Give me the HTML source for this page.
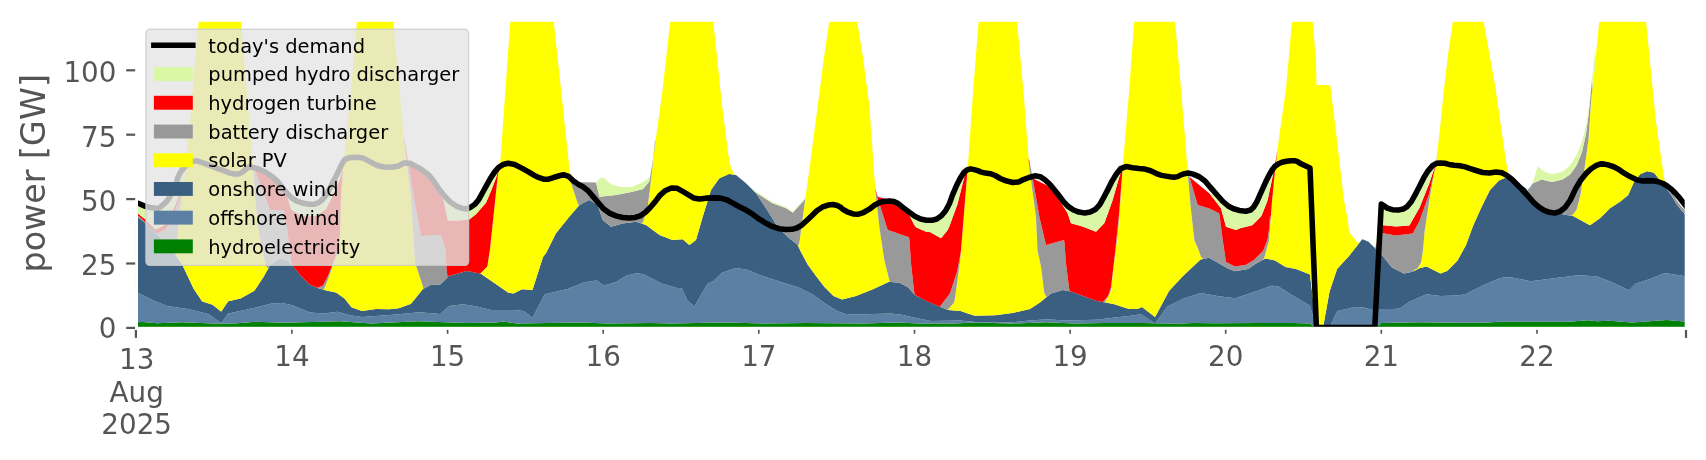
<!DOCTYPE html>
<html><head><meta charset="utf-8"><style>
html,body{margin:0;padding:0;background:#fff;}
svg{display:block;will-change:transform;}
.tk{font-family:"DejaVu Sans","Liberation Sans",sans-serif;font-size:27.78px;fill:#555555;}
.lg{font-family:"DejaVu Sans","Liberation Sans",sans-serif;font-size:19.44px;fill:#000;}
.yl{font-family:"DejaVu Sans","Liberation Sans",sans-serif;font-size:33.33px;fill:#555555;}
</style></head><body>
<svg width="1706" height="460" viewBox="0 0 1706 460">
<defs><clipPath id="ax"><rect x="135.9" y="20.4" width="1550.0" height="307.8"/></clipPath></defs>
<rect width="1706" height="460" fill="#fff"/>
<g clip-path="url(#ax)">
<polygon points="135.0,322.2 143.0,321.9 157.0,323.3 182.0,322.2 213.0,323.4 234.0,323.4 256.0,321.8 284.0,322.7 340.0,321.3 371.0,323.4 418.0,321.3 467.0,322.9 496.0,322.5 503.0,321.5 517.0,323.4 580.0,322.4 609.0,323.6 651.0,323.1 672.0,323.5 721.0,322.4 736.0,322.7 764.0,323.6 806.0,323.1 863.0,323.6 898.0,322.4 919.0,323.6 954.0,323.4 976.0,322.4 1011.0,323.6 1046.0,322.2 1074.0,323.6 1103.0,322.9 1145.0,323.1 1173.0,323.8 1194.0,322.9 1216.0,323.2 1258.0,322.9 1293.0,323.1 1310.0,323.6 1316.5,328.3 1374.5,328.3 1375.0,328.1 1381.0,323.3 1381.5,323.1 1420.0,322.2 1456.0,322.7 1484.0,322.7 1498.5,321.7 1568.5,321.7 1588.0,320.3 1596.5,321.3 1609.5,320.8 1632.0,322.4 1667.0,320.1 1681.0,321.3 1687.0,321.6 1687.0,331.2 135.0,331.2" fill="#008000"/>
<polygon points="135.0,292.0 136.0,292.0 137.5,292.5 153.5,300.4 167.0,305.9 188.0,309.1 209.0,314.3 221.0,322.9 221.5,322.6 228.0,313.8 228.5,313.4 249.0,309.1 271.5,303.6 282.0,303.0 292.5,305.3 310.0,312.6 324.0,313.5 337.5,311.7 350.0,315.2 362.0,317.0 376.0,316.1 393.0,314.7 419.5,312.3 440.0,314.0 440.5,313.8 449.0,306.0 463.0,304.3 477.0,306.5 491.0,310.0 515.0,310.0 523.5,310.9 524.0,311.1 532.5,317.8 544.5,294.7 545.0,294.2 567.5,289.0 584.5,282.3 596.5,280.5 597.0,280.5 603.5,285.5 604.0,285.6 616.0,282.0 626.5,275.7 637.0,273.0 644.0,274.4 661.5,283.5 677.0,287.9 681.5,288.3 682.0,288.9 687.0,299.8 687.5,300.6 694.0,306.2 694.5,306.2 707.0,284.4 707.5,283.8 713.5,280.9 722.0,272.7 736.0,267.9 748.0,270.0 760.5,275.3 781.0,282.1 798.5,287.4 812.5,294.3 824.5,302.9 837.0,310.9 845.5,314.0 856.0,314.5 891.0,313.5 901.5,314.8 917.0,318.2 931.0,321.0 960.0,320.4 978.0,322.2 1012.5,322.2 1030.0,320.4 1047.0,319.2 1065.0,320.4 1096.0,319.8 1130.5,315.7 1141.0,314.3 1141.5,314.5 1155.0,323.4 1155.0,323.4 1145.0,323.1 1103.0,322.9 1074.0,323.6 1046.0,322.2 1011.0,323.6 976.0,322.4 954.0,323.4 919.0,323.6 898.0,322.4 863.0,323.6 806.0,323.1 764.0,323.6 736.0,322.7 721.0,322.4 672.0,323.5 651.0,323.1 609.0,323.6 580.0,322.4 517.0,323.4 503.0,321.5 496.0,322.5 467.0,322.9 418.0,321.3 371.0,323.4 340.0,321.3 284.0,322.7 256.0,321.8 234.0,323.4 213.0,323.4 182.0,322.2 157.0,323.3 143.0,321.9 135.0,322.2" fill="#5b80a3"/>
<polygon points="1155.0,323.4 1155.5,322.9 1167.0,306.9 1167.5,306.4 1183.0,298.7 1200.0,293.2 1200.5,293.1 1217.5,296.1 1235.0,298.3 1252.5,292.6 1271.5,285.8 1272.0,285.7 1278.5,286.5 1291.0,294.4 1309.5,305.5 1310.0,306.0 1316.5,328.3 1316.5,328.3 1310.0,323.6 1293.0,323.1 1258.0,322.9 1216.0,323.2 1194.0,322.9 1173.0,323.8 1155.0,323.4" fill="#5b80a3"/>
<polygon points="1329.0,328.3 1329.5,328.1 1337.0,311.2 1337.5,310.9 1349.0,308.6 1353.5,307.0 1364.0,307.5 1372.5,310.0 1379.5,309.1 1393.5,309.1 1400.0,308.5 1409.0,302.0 1426.5,294.3 1440.5,296.1 1457.5,295.6 1466.0,294.1 1480.5,286.4 1499.5,278.2 1505.0,277.2 1512.0,277.6 1531.0,281.3 1550.0,278.7 1578.0,275.2 1596.0,276.2 1596.5,276.2 1612.5,282.6 1629.0,290.2 1635.5,283.7 1648.5,279.4 1665.0,272.9 1686.0,276.2 1687.0,276.2 1687.0,321.6 1681.0,321.3 1667.0,320.1 1632.0,322.4 1609.5,320.8 1596.5,321.3 1588.0,320.3 1568.5,321.7 1498.5,321.7 1484.0,322.7 1456.0,322.7 1420.0,322.2 1381.5,323.1 1381.0,323.3 1375.0,328.1 1374.5,328.3 1329.0,328.3" fill="#5b80a3"/>
<polygon points="135.0,217.0 138.0,217.2 146.0,223.5 156.0,233.0 166.0,243.0 175.0,254.0 182.5,265.2 193.5,288.4 202.0,301.2 202.5,301.4 212.5,304.8 221.0,311.5 221.5,311.3 228.0,301.6 228.5,301.2 240.5,298.6 254.0,291.1 254.5,290.6 263.0,277.8 270.0,265.4 279.5,258.7 280.0,258.7 286.5,260.0 287.0,260.3 292.5,265.5 301.5,276.4 310.0,284.8 319.0,288.4 325.5,290.3 336.0,292.6 344.5,298.6 351.5,307.2 352.0,307.5 362.0,310.9 376.0,309.1 389.5,309.3 398.5,308.3 410.5,304.0 411.0,303.7 423.0,289.1 431.5,284.5 432.0,284.4 440.0,284.4 440.5,284.2 449.0,276.1 466.5,270.9 480.5,273.6 508.0,292.5 508.5,292.7 513.5,293.4 522.0,289.2 532.5,290.0 543.0,257.0 546.0,253.3 556.0,233.3 569.5,216.5 579.0,205.4 579.5,204.9 589.0,200.1 589.5,200.1 597.5,204.9 598.0,205.9 602.5,219.4 603.0,220.2 611.0,226.7 622.5,223.4 636.0,221.7 646.0,225.0 659.5,235.1 672.5,239.9 682.5,239.3 683.0,239.6 689.0,244.7 689.5,244.9 696.0,240.0 702.5,217.4 711.0,190.0 719.0,178.7 719.5,178.2 729.0,174.1 729.5,174.0 736.0,175.0 746.0,183.3 756.0,193.3 766.0,208.3 777.5,226.4 789.0,238.0 797.5,244.8 801.0,252.0 807.5,264.2 816.0,276.1 824.5,287.1 833.5,296.1 842.0,299.6 856.0,296.1 873.5,289.1 889.0,281.8 899.5,282.7 908.0,287.3 915.0,295.1 915.5,295.4 926.0,300.6 939.5,306.5 948.0,309.9 960.5,311.0 974.5,315.7 995.0,315.2 1012.5,313.0 1030.0,309.0 1040.5,302.0 1051.0,293.4 1063.0,290.0 1072.0,291.8 1096.0,300.8 1113.5,303.9 1129.0,309.1 1137.5,309.1 1142.0,307.0 1155.0,316.9 1155.5,316.2 1169.0,290.9 1183.0,276.1 1200.0,259.9 1200.5,259.6 1209.0,257.8 1228.0,268.5 1235.0,271.3 1248.0,269.1 1256.0,263.5 1265.5,258.4 1275.0,260.4 1285.5,266.9 1296.0,269.1 1309.5,274.2 1310.0,275.1 1316.5,328.3 1316.5,328.3 1310.0,306.0 1309.5,305.5 1291.0,294.4 1278.5,286.5 1272.0,285.7 1271.5,285.8 1252.5,292.6 1235.0,298.3 1217.5,296.1 1200.5,293.1 1200.0,293.2 1183.0,298.7 1167.5,306.4 1167.0,306.9 1155.5,322.9 1155.0,323.4 1141.5,314.5 1141.0,314.3 1130.5,315.7 1096.0,319.8 1065.0,320.4 1047.0,319.2 1030.0,320.4 1012.5,322.2 978.0,322.2 960.0,320.4 931.0,321.0 917.0,318.2 901.5,314.8 891.0,313.5 856.0,314.5 845.5,314.0 837.0,310.9 824.5,302.9 812.5,294.3 798.5,287.4 781.0,282.1 760.5,275.3 748.0,270.0 736.0,267.9 722.0,272.7 713.5,280.9 707.5,283.8 707.0,284.4 694.5,306.2 694.0,306.2 687.5,300.6 687.0,299.8 682.0,288.9 681.5,288.3 677.0,287.9 661.5,283.5 644.0,274.4 637.0,273.0 626.5,275.7 616.0,282.0 604.0,285.6 603.5,285.5 597.0,280.5 596.5,280.5 584.5,282.3 567.5,289.0 545.0,294.2 544.5,294.7 532.5,317.8 524.0,311.1 523.5,310.9 515.0,310.0 491.0,310.0 477.0,306.5 463.0,304.3 449.0,306.0 440.5,313.8 440.0,314.0 419.5,312.3 393.0,314.7 376.0,316.1 362.0,317.0 350.0,315.2 337.5,311.7 324.0,313.5 310.0,312.6 292.5,305.3 282.0,303.0 271.5,303.6 249.0,309.1 228.5,313.4 228.0,313.8 221.5,322.6 221.0,322.9 209.0,314.3 188.0,309.1 167.0,305.9 153.5,300.4 137.5,292.5 136.0,292.0 135.0,292.0" fill="#3b5f80"/>
<polygon points="1322.5,328.3 1323.0,327.7 1329.5,291.7 1337.0,269.3 1337.5,268.6 1349.0,256.0 1362.0,239.4 1362.5,239.2 1368.0,241.4 1368.5,241.8 1382.0,255.1 1391.5,267.1 1392.0,267.6 1403.5,273.3 1404.0,273.5 1412.5,271.7 1419.5,268.3 1426.5,266.5 1440.0,273.3 1440.5,273.4 1447.0,271.0 1447.5,270.7 1457.5,260.6 1466.0,245.0 1473.0,226.0 1482.0,206.0 1490.0,190.0 1499.0,180.5 1507.5,176.8 1508.0,176.9 1516.0,181.7 1526.0,188.3 1541.5,209.3 1542.0,209.5 1552.5,212.1 1565.0,214.7 1573.0,216.1 1590.0,225.3 1600.0,218.3 1610.0,208.3 1620.0,201.7 1628.0,195.2 1628.5,194.5 1633.5,183.0 1640.0,174.3 1647.0,171.2 1653.5,172.5 1654.0,172.7 1664.0,185.3 1671.0,194.8 1676.5,203.9 1681.5,210.6 1686.0,215.0 1687.0,215.0 1687.0,276.2 1686.0,276.2 1665.0,272.9 1648.5,279.4 1635.5,283.7 1629.0,290.2 1612.5,282.6 1596.5,276.2 1596.0,276.2 1578.0,275.2 1550.0,278.7 1531.0,281.3 1512.0,277.6 1505.0,277.2 1499.5,278.2 1480.5,286.4 1466.0,294.1 1457.5,295.6 1440.5,296.1 1426.5,294.3 1409.0,302.0 1400.0,308.5 1393.5,309.1 1379.5,309.1 1372.5,310.0 1364.0,307.5 1353.5,307.0 1349.0,308.6 1337.5,310.9 1337.0,311.2 1329.5,328.1 1329.0,328.3 1322.5,328.3" fill="#3b5f80"/>
<polygon points="175.5,254.8 177.0,245.0 178.5,222.0 179.5,212.0 183.5,185.7 184.0,181.0 190.0,121.0 198.5,23.3 199.0,21.0 241.0,21.0 253.0,165.7 255.5,200.8 256.0,205.7 259.5,236.2 266.0,266.2 268.0,268.0 268.5,268.0 268.5,268.0 263.0,277.8 254.5,290.6 254.0,291.1 240.5,298.6 228.5,301.2 228.0,301.6 221.5,311.3 221.0,311.5 212.5,304.8 202.5,301.4 202.0,301.2 193.5,288.4 182.5,265.2 175.5,254.8" fill="#ffff00"/>
<polygon points="323.0,289.6 323.5,289.3 324.0,288.7 327.0,282.0 332.5,266.5 337.0,255.0 339.5,242.1 340.0,235.0 340.5,210.0 341.0,196.1 343.0,170.0 350.0,100.0 357.0,21.0 393.0,21.0 393.5,23.2 404.0,140.0 411.0,196.5 415.0,261.2 415.5,264.8 416.0,265.5 422.0,283.6 423.5,288.8 423.5,288.8 423.0,289.1 411.0,303.7 410.5,304.0 399.0,308.2 389.5,309.3 376.0,309.1 362.0,310.9 352.0,307.5 351.5,307.2 344.5,298.6 336.0,292.6 326.0,290.4 323.0,289.6" fill="#ffff00"/>
<polygon points="480.0,273.4 480.5,273.3 487.0,266.8 487.5,265.2 490.0,249.1 497.5,177.9 498.0,174.4 500.0,163.6 500.5,159.2 510.0,25.2 510.5,21.0 553.5,21.0 554.0,23.8 571.0,183.3 578.0,204.0 579.0,205.4 579.0,205.4 569.5,216.5 556.0,233.3 546.0,253.3 543.0,257.0 532.5,290.0 522.0,289.2 513.5,293.4 508.5,292.7 508.0,292.5 494.0,282.8 480.5,273.6 480.0,273.4" fill="#ffff00"/>
<polygon points="641.5,223.5 642.0,223.5 643.5,220.7 647.5,207.7 648.0,204.5 651.0,180.0 654.5,148.5 662.5,90.2 670.0,23.7 670.5,21.0 713.0,21.0 713.5,22.9 722.0,105.3 728.0,152.0 730.0,165.0 734.0,174.0 735.0,174.9 735.0,174.9 729.5,174.0 729.0,174.1 719.5,178.2 719.0,178.7 711.0,190.0 702.5,217.4 696.0,240.0 689.5,244.9 689.0,244.7 683.0,239.6 682.5,239.3 672.5,239.9 659.5,235.1 646.0,225.0 641.5,223.5" fill="#ffff00"/>
<polygon points="798.0,245.6 799.0,243.9 799.5,241.8 803.0,215.0 810.0,165.0 824.0,57.6 829.0,23.1 829.5,21.0 857.0,21.0 862.5,54.1 869.0,103.0 869.5,108.1 874.0,171.1 876.0,196.7 879.5,228.0 884.5,260.8 889.5,280.9 890.0,281.9 890.0,281.9 889.0,281.8 873.5,289.1 856.0,296.1 842.0,299.6 833.5,296.1 824.5,287.1 816.0,276.1 807.5,264.2 801.0,252.0 798.0,245.6" fill="#ffff00"/>
<polygon points="947.5,309.7 948.0,309.4 954.0,302.5 954.5,300.9 957.0,284.0 960.0,261.0 960.5,256.3 967.5,170.8 973.5,86.2 978.5,23.5 979.0,21.0 1017.0,21.0 1023.5,91.4 1029.5,170.0 1031.0,180.0 1036.0,216.7 1037.5,250.0 1041.0,266.7 1044.0,290.9 1044.5,293.6 1046.0,296.0 1046.5,297.1 1046.5,297.1 1040.0,302.4 1030.0,309.0 1012.5,313.0 995.0,315.2 974.5,315.7 960.5,311.0 948.5,310.0 947.5,309.7" fill="#ffff00"/>
<polygon points="1104.5,302.3 1105.0,302.0 1109.0,295.0 1111.0,290.0 1115.0,255.0 1117.0,240.0 1119.5,213.8 1123.0,163.2 1129.0,92.2 1134.0,25.1 1134.5,21.0 1175.0,21.0 1181.0,88.7 1186.0,150.0 1188.0,176.6 1191.0,210.0 1194.0,237.3 1194.5,240.5 1198.5,249.8 1201.0,256.7 1203.0,259.0 1203.5,258.9 1203.5,258.9 1200.5,259.6 1200.0,259.9 1183.0,276.1 1169.0,290.9 1155.5,316.2 1155.0,316.9 1142.0,307.0 1137.5,309.1 1129.0,309.1 1113.5,303.9 1104.5,302.3" fill="#ffff00"/>
<polygon points="1263.0,259.7 1263.5,259.1 1264.5,256.9 1269.0,240.5 1272.0,201.0 1275.0,170.5 1279.0,137.9 1286.0,88.7 1292.0,21.0 1312.5,21.0 1313.0,24.5 1316.0,60.0 1316.5,85.0 1330.0,85.0 1330.5,87.4 1336.0,132.0 1344.0,200.5 1348.0,221.0 1349.0,231.0 1349.5,232.5 1357.5,242.7 1360.0,241.9 1360.0,241.9 1349.0,256.0 1337.5,268.6 1337.0,269.3 1329.5,291.7 1323.0,327.7 1322.5,328.3 1316.5,328.3 1310.0,275.1 1309.5,274.2 1296.0,269.1 1285.5,266.9 1275.0,260.4 1265.5,258.4 1263.0,259.7" fill="#ffff00"/>
<polygon points="1413.5,271.2 1414.0,270.0 1417.5,268.4 1418.0,267.8 1421.0,262.5 1421.5,260.2 1423.0,250.0 1424.5,232.0 1429.5,198.9 1436.5,159.5 1440.5,123.7 1444.0,88.8 1448.5,51.2 1453.0,21.0 1483.5,21.0 1495.5,87.7 1505.5,158.2 1509.0,175.8 1509.5,177.5 1510.5,178.4 1510.5,178.4 1508.0,176.9 1507.5,176.8 1499.0,180.5 1490.0,190.0 1482.0,206.0 1473.0,226.0 1466.0,245.0 1457.5,260.6 1447.5,270.7 1447.0,271.0 1440.5,273.4 1440.0,273.3 1426.5,266.5 1419.5,268.3 1413.5,271.2" fill="#ffff00"/>
<polygon points="1571.0,215.7 1571.5,215.6 1573.0,214.6 1576.5,209.8 1577.0,208.6 1580.5,194.6 1584.5,168.5 1588.5,139.1 1591.0,101.5 1594.5,70.0 1599.0,24.1 1599.5,21.0 1646.0,21.0 1656.0,122.0 1664.0,177.5 1665.5,187.0 1666.0,188.0 1666.0,188.0 1654.0,172.7 1647.0,171.2 1640.0,174.3 1633.5,183.0 1628.5,194.5 1628.0,195.2 1620.0,201.7 1610.0,208.3 1600.0,218.3 1590.0,225.3 1573.0,216.1 1571.0,215.7" fill="#ffff00"/>
<polygon points="135.5,217.0 136.0,215.3 138.0,215.5 146.0,223.0 149.5,226.8 149.5,226.8 146.0,223.5 138.0,217.2 135.5,217.0" fill="#999999"/>
<polygon points="156.5,233.5 157.0,233.5 166.0,229.0 175.5,209.7 181.0,193.0 182.5,190.0 183.0,188.6 183.5,185.7 183.5,185.7 179.5,212.0 178.5,222.0 177.0,245.0 175.5,254.8 166.0,243.0 156.5,233.5" fill="#999999"/>
<polygon points="252.5,159.6 253.0,165.0 270.0,210.0 284.0,210.0 287.0,228.0 291.5,262.2 292.0,265.0 292.0,265.0 287.0,260.3 286.5,260.0 280.0,258.7 279.5,258.7 270.0,265.4 268.5,268.0 268.0,268.0 266.0,266.2 259.5,236.2 255.5,200.8 252.5,159.6" fill="#999999"/>
<polygon points="317.0,287.6 317.5,287.8 323.0,285.5 328.0,276.0 333.0,263.0 337.0,252.0 339.5,240.0 340.0,232.5 340.5,210.0 340.5,210.0 340.0,235.0 339.5,242.1 337.0,255.0 332.5,266.5 327.5,280.7 324.0,288.7 323.5,289.3 323.0,289.6 318.5,288.3 317.0,287.6" fill="#999999"/>
<polygon points="403.5,134.4 406.5,157.7 407.0,160.4 408.0,162.6 408.5,164.8 415.0,203.8 421.0,236.1 440.5,234.7 441.0,235.6 445.5,249.7 446.5,267.8 447.5,277.5 447.5,277.5 440.5,284.2 440.0,284.4 432.0,284.4 431.5,284.5 423.5,288.8 422.0,283.6 416.0,265.5 415.5,264.8 415.0,261.2 411.0,196.5 404.0,140.0 403.5,134.4" fill="#999999"/>
<polygon points="570.0,173.8 570.5,176.8 572.0,182.0 596.0,182.5 599.5,196.7 616.0,195.0 632.5,191.7 642.5,189.3 643.0,189.0 649.0,182.0 649.5,180.5 653.0,160.0 655.0,140.0 655.5,141.2 655.5,141.2 654.0,152.8 651.0,180.0 648.0,204.5 647.5,207.7 643.5,220.7 642.0,223.5 641.5,223.5 636.0,221.7 622.5,223.4 611.0,226.7 603.0,220.2 602.5,219.4 598.0,205.9 597.5,204.9 589.5,200.1 589.0,200.1 579.5,204.9 579.0,205.4 578.0,204.0 571.0,183.3 570.0,173.8" fill="#999999"/>
<polygon points="754.5,191.8 772.5,203.2 786.0,208.3 792.5,212.6 793.0,212.4 805.0,199.3 805.5,197.1 805.5,197.1 799.5,241.8 799.0,243.9 798.0,245.6 797.5,244.8 789.0,238.0 777.5,226.4 766.0,208.3 756.0,193.3 754.5,191.8" fill="#999999"/>
<polygon points="875.5,190.4 878.0,199.3 887.5,229.4 888.0,230.1 909.0,237.2 909.5,240.4 911.0,263.3 914.0,290.3 914.5,293.8 915.0,295.1 915.0,295.1 908.0,287.3 899.5,282.7 890.0,281.9 889.5,280.9 884.5,260.8 884.0,258.0 879.5,228.0 876.0,196.7 875.5,190.4" fill="#999999"/>
<polygon points="940.0,306.7 941.5,304.4 950.0,293.2 957.0,272.1 960.5,253.7 961.0,250.2 961.0,250.2 960.0,261.0 957.0,284.0 954.5,300.9 954.0,302.5 948.0,309.4 947.5,309.7 940.0,306.7" fill="#999999"/>
<polygon points="1029.0,164.7 1029.5,161.1 1033.0,180.0 1039.5,217.5 1046.0,245.0 1064.0,240.1 1064.5,242.7 1066.0,263.3 1069.0,287.6 1069.5,290.6 1070.0,291.4 1070.0,291.4 1063.0,290.0 1051.0,293.4 1046.5,297.1 1046.0,296.0 1044.5,293.6 1044.0,290.9 1041.0,266.7 1037.5,250.0 1036.0,216.7 1031.0,180.0 1029.5,170.0 1029.0,164.7" fill="#999999"/>
<polygon points="1102.5,302.0 1103.0,301.8 1108.0,296.0 1111.0,287.0 1115.0,253.0 1119.0,214.0 1123.0,163.2 1123.0,163.2 1119.0,219.7 1117.0,240.0 1115.0,255.0 1111.0,290.0 1109.0,295.0 1105.0,302.0 1104.5,302.3 1102.5,302.0" fill="#999999"/>
<polygon points="1187.0,163.7 1187.5,170.3 1197.5,204.3 1198.0,205.1 1209.5,208.4 1219.0,213.2 1219.5,214.9 1222.5,238.4 1226.0,262.0 1235.0,266.5 1246.0,264.8 1255.0,259.0 1263.0,250.9 1263.5,250.1 1267.5,239.5 1268.0,237.1 1269.5,225.0 1270.0,215.0 1270.5,220.8 1270.5,220.8 1269.0,240.5 1264.5,256.9 1264.0,258.1 1263.0,259.7 1256.0,263.5 1248.0,269.1 1235.0,271.3 1228.0,268.5 1209.0,257.8 1203.0,259.0 1201.0,256.7 1198.5,249.8 1194.5,240.5 1194.0,237.3 1191.0,210.0 1188.0,176.6 1187.0,163.7" fill="#999999"/>
<polygon points="1375.0,248.3 1375.5,248.2 1381.0,233.8 1381.5,233.0 1396.0,235.5 1412.5,233.5 1413.0,233.0 1419.5,221.1 1429.0,194.2 1435.0,168.0 1435.5,165.3 1437.5,150.8 1437.5,150.8 1436.5,159.5 1429.5,198.9 1424.5,232.0 1423.0,250.0 1421.5,260.2 1421.0,262.5 1418.0,267.8 1417.5,268.4 1414.0,270.0 1413.5,271.2 1412.5,271.7 1404.0,273.5 1403.5,273.3 1392.0,267.6 1391.5,267.1 1382.0,255.1 1375.0,248.3" fill="#999999"/>
<polygon points="1527.0,189.7 1527.5,190.2 1531.0,186.0 1532.5,183.4 1541.5,179.5 1552.0,182.1 1562.5,179.5 1570.0,174.5 1570.5,174.0 1576.5,165.5 1577.0,164.6 1582.0,152.1 1586.0,133.9 1588.5,115.6 1592.0,80.0 1592.5,87.7 1592.5,87.7 1591.0,101.5 1588.5,139.1 1584.5,168.5 1581.0,191.8 1580.5,194.6 1577.0,208.6 1576.5,209.8 1573.0,214.6 1571.5,215.6 1571.0,215.7 1565.0,214.7 1552.5,212.1 1542.0,209.5 1541.5,209.3 1527.0,189.7" fill="#999999"/>
<polygon points="1664.5,180.8 1665.0,183.0 1671.5,191.8 1676.5,200.0 1681.5,206.7 1686.0,211.0 1686.5,215.0 1686.5,215.0 1686.0,215.0 1681.5,210.6 1676.5,203.9 1671.5,195.5 1666.0,188.0 1665.5,187.0 1664.5,180.8" fill="#999999"/>
<polygon points="135.5,217.0 136.0,213.2 138.0,213.4 146.0,220.0 155.5,229.2 156.0,229.4 165.5,224.6 175.5,204.7 179.0,194.5 182.0,187.0 183.5,184.0 184.0,181.0 184.0,181.0 183.5,185.7 183.0,188.6 182.5,190.0 181.0,193.0 175.5,209.7 166.0,229.0 157.0,233.5 156.5,233.5 149.5,226.8 146.0,223.0 138.0,215.5 136.0,215.3 135.5,217.0" fill="#ff0000"/>
<polygon points="254.0,167.7 262.0,173.5 272.5,178.5 283.0,189.0 287.5,197.3 291.0,208.9 291.5,209.8 299.0,214.2 306.0,216.3 306.5,216.4 317.0,215.7 326.0,209.0 326.5,208.2 334.0,192.4 339.5,180.0 340.0,178.7 343.0,168.0 345.0,150.0 345.0,150.0 343.0,170.0 341.0,196.1 340.5,210.0 340.0,232.5 339.5,240.0 337.0,252.0 333.0,263.0 328.0,276.0 323.0,285.5 317.5,287.8 310.0,284.8 301.0,275.9 292.0,265.0 291.5,262.2 287.0,228.0 284.0,210.0 270.0,210.0 254.0,167.7" fill="#ff0000"/>
<polygon points="403.5,134.4 408.0,161.4 408.5,162.8 428.0,175.3 443.5,199.4 447.5,219.1 448.0,220.6 459.0,220.6 469.0,219.3 469.5,219.2 476.0,214.3 486.0,202.7 491.0,191.0 496.0,178.0 499.5,166.3 499.5,166.3 498.0,174.4 497.5,177.9 490.0,249.1 487.5,265.2 487.0,266.8 480.5,273.3 480.0,273.4 466.5,270.9 449.0,276.1 447.5,277.5 446.5,267.8 445.5,249.7 441.0,235.6 440.5,234.7 421.0,236.1 415.0,203.8 408.5,164.8 408.0,162.6 407.0,160.4 406.5,157.7 403.5,134.4" fill="#ff0000"/>
<polygon points="875.0,184.1 875.5,188.9 877.5,196.0 878.0,196.8 889.5,200.1 899.0,204.9 899.5,205.2 909.0,214.7 909.5,215.4 914.0,224.4 916.0,227.3 926.0,231.7 929.5,231.8 941.0,238.3 947.5,230.2 949.5,226.1 957.5,203.9 964.0,177.9 964.5,176.2 967.5,168.8 968.0,164.0 968.0,164.0 961.0,250.2 960.5,253.7 957.0,272.1 950.0,293.2 941.5,304.4 940.0,306.7 925.5,300.4 915.0,295.1 914.5,293.8 914.0,290.3 911.0,263.3 909.5,240.4 909.0,237.2 888.0,230.1 887.5,229.4 878.0,199.3 875.5,190.4 875.0,184.1" fill="#ff0000"/>
<polygon points="1028.5,158.0 1029.0,160.0 1029.5,161.1 1029.5,161.1 1029.0,164.7 1028.5,158.0" fill="#ff0000"/>
<polygon points="1032.5,177.2 1033.0,178.5 1049.0,186.5 1049.5,187.0 1059.5,200.3 1067.5,213.0 1071.0,223.3 1082.5,226.6 1096.0,231.7 1104.0,223.6 1104.5,222.7 1112.5,200.6 1119.0,177.8 1122.5,167.3 1123.0,163.2 1123.0,163.2 1119.0,214.0 1115.0,253.0 1111.0,287.0 1108.0,296.0 1103.0,301.8 1102.5,302.0 1096.0,300.8 1072.0,291.8 1070.0,291.4 1069.5,290.6 1069.0,287.6 1066.0,263.3 1064.5,242.7 1064.0,240.1 1046.0,245.0 1039.5,217.5 1032.5,177.2" fill="#ff0000"/>
<polygon points="1189.0,175.6 1189.5,176.9 1209.5,193.6 1221.0,208.3 1226.0,226.7 1236.0,230.0 1240.0,228.3 1252.0,225.3 1252.5,225.0 1261.0,216.5 1261.5,215.7 1267.5,200.5 1272.0,179.6 1275.0,164.4 1277.5,149.6 1278.0,145.8 1278.0,145.8 1275.0,170.5 1272.0,201.0 1270.5,220.8 1270.0,215.0 1269.5,225.0 1268.0,237.1 1267.5,239.5 1263.5,250.1 1263.0,250.9 1254.5,259.4 1246.0,264.8 1235.0,266.5 1226.0,262.0 1222.5,238.4 1219.5,214.9 1219.0,213.2 1209.5,208.4 1198.0,205.1 1197.5,204.3 1189.0,175.6" fill="#ff0000"/>
<polygon points="1375.0,248.3 1375.5,247.3 1381.0,226.2 1381.5,225.0 1396.0,226.5 1409.0,225.5 1409.5,225.2 1419.5,207.8 1429.5,182.7 1434.5,167.5 1436.0,161.8 1436.5,158.4 1436.5,158.4 1435.0,168.0 1429.0,194.2 1419.5,221.1 1413.0,233.0 1412.5,233.5 1396.0,235.5 1381.5,233.0 1381.0,233.8 1375.5,248.2 1375.0,248.3" fill="#ff0000"/>
<polygon points="135.5,217.0 136.0,205.5 146.0,209.5 159.0,211.0 168.5,201.9 169.0,201.2 178.5,177.5 182.0,172.0 185.5,165.9 186.0,161.0 186.0,161.0 184.0,181.0 183.5,184.0 182.0,187.0 179.0,194.5 175.5,204.7 165.5,224.6 156.0,229.4 155.5,229.2 146.0,220.0 138.0,213.4 136.0,213.2 135.5,217.0" fill="#daf7a6"/>
<polygon points="283.5,189.9 284.0,190.0 294.0,201.2 294.5,201.6 306.5,205.5 317.0,205.5 324.5,199.2 325.0,198.4 332.5,184.6 338.5,172.8 343.0,165.0 343.5,163.5 343.5,163.5 343.0,168.0 340.0,178.7 334.0,192.4 326.5,208.2 326.0,209.0 317.0,215.7 306.5,216.4 306.0,216.3 299.0,214.2 291.5,209.8 291.0,208.9 287.5,197.3 283.5,189.9" fill="#daf7a6"/>
<polygon points="437.5,190.1 438.0,188.0 453.5,204.0 464.5,207.9 465.0,207.9 471.5,205.6 472.0,205.3 480.0,198.0 489.0,183.0 495.0,174.0 500.0,163.0 500.5,159.2 500.5,159.2 500.0,163.6 499.5,166.3 496.0,178.0 491.0,191.0 486.0,202.7 476.0,214.3 469.5,219.2 469.0,219.3 459.0,220.6 448.0,220.6 447.5,219.1 443.5,199.4 437.5,190.1" fill="#daf7a6"/>
<polygon points="596.0,182.5 596.5,182.4 600.0,178.0 603.5,177.5 611.0,184.1 611.5,184.4 621.5,186.9 632.0,187.0 642.5,182.6 649.5,177.4 650.5,174.7 650.5,174.7 649.5,180.5 649.0,182.0 643.0,189.0 642.5,189.3 632.5,191.7 616.0,195.0 599.5,196.7 596.0,182.5" fill="#daf7a6"/>
<polygon points="752.5,189.8 753.0,188.0 754.5,190.6 772.5,201.9 786.0,207.0 792.5,211.4 793.0,211.2 805.0,198.1 805.5,197.1 805.5,197.1 805.0,199.3 793.0,212.4 792.5,212.6 786.0,208.3 772.5,203.2 755.0,192.1 752.5,189.8" fill="#daf7a6"/>
<polygon points="907.5,213.2 911.0,215.0 917.5,218.9 929.0,221.9 929.5,221.9 939.0,219.6 939.5,219.3 947.5,210.2 948.0,209.2 954.5,191.4 960.0,175.0 964.0,165.0 964.5,176.2 964.5,176.2 957.5,203.9 949.5,226.1 947.5,230.2 941.0,238.3 929.5,231.8 926.0,231.7 916.0,227.3 914.0,224.4 909.5,215.4 909.0,214.7 907.5,213.2" fill="#daf7a6"/>
<polygon points="1061.5,203.5 1062.0,200.0 1066.0,206.0 1076.0,212.5 1087.5,214.5 1088.0,214.4 1097.5,209.6 1098.0,209.0 1106.0,194.5 1114.5,177.5 1120.0,165.0 1120.5,173.2 1120.5,173.2 1119.0,177.8 1112.5,200.6 1104.5,222.7 1104.0,223.6 1096.0,231.7 1082.5,226.6 1071.0,223.3 1067.5,213.0 1061.5,203.5" fill="#daf7a6"/>
<polygon points="1211.5,196.1 1212.0,191.0 1226.0,206.0 1236.0,211.5 1249.0,213.0 1255.0,207.2 1255.5,206.3 1267.5,179.8 1273.5,169.0 1274.0,168.6 1274.5,166.9 1274.5,166.9 1272.0,179.6 1267.5,200.5 1267.0,202.0 1261.5,215.7 1261.0,216.5 1252.5,225.0 1252.0,225.3 1240.0,228.3 1236.0,230.0 1226.0,226.7 1221.0,208.3 1211.5,196.1" fill="#daf7a6"/>
<polygon points="1375.0,248.3 1381.0,208.0 1381.5,206.1 1389.5,210.5 1401.0,211.0 1409.0,206.2 1409.5,205.6 1417.5,191.4 1426.0,174.5 1434.0,164.9 1435.5,163.6 1436.0,161.8 1436.0,161.8 1434.0,169.2 1429.5,182.7 1419.5,207.8 1409.5,225.2 1409.0,225.5 1396.0,226.5 1381.5,225.0 1381.0,226.2 1375.5,247.3 1375.0,248.3" fill="#daf7a6"/>
<polygon points="1532.5,183.4 1537.5,167.1 1538.0,166.6 1544.0,171.5 1552.0,174.3 1562.5,171.7 1570.0,165.4 1570.5,164.8 1576.5,155.2 1582.0,141.7 1586.0,126.1 1588.5,110.4 1592.0,80.0 1592.0,80.0 1588.5,115.6 1586.0,133.9 1582.0,152.1 1577.0,164.6 1576.5,165.5 1570.5,174.0 1570.0,174.5 1562.5,179.5 1552.0,182.1 1541.5,179.5 1532.5,183.4" fill="#daf7a6"/>
<polygon points="1592.0,80.0 1595.0,50.0 1595.5,59.8 1595.5,59.8 1592.5,87.7 1592.0,80.0" fill="#daf7a6"/>

<polyline points="136.00,203.00 136.65,203.07 137.95,203.23 140.55,204.23 144.45,206.07 149.03,207.30 154.28,207.90 157.43,208.20 158.47,208.20 160.75,206.70 164.25,203.70 166.72,201.25 168.18,199.35 170.48,195.45 173.62,189.55 176.07,183.57 177.82,177.53 180.32,172.32 183.57,167.98 187.52,164.35 192.18,161.45 196.85,160.78 201.55,162.32 207.15,164.40 213.65,167.00 219.18,169.10 223.72,170.70 227.65,172.12 230.95,173.38 234.55,174.00 238.45,174.00 242.45,172.20 246.55,168.60 249.20,166.83 250.40,166.88 253.75,167.68 259.25,169.22 265.50,172.28 272.50,176.82 278.27,182.15 282.83,188.25 287.40,193.58 292.00,198.12 297.33,201.35 303.38,203.25 309.07,204.20 314.43,204.20 319.00,202.50 322.80,199.10 326.60,193.98 330.40,187.12 333.83,180.65 336.88,174.55 339.25,169.62 340.95,165.88 342.85,162.45 344.95,159.35 349.75,157.60 357.25,157.20 363.00,158.05 367.00,160.15 371.75,162.62 377.25,165.48 383.88,167.03 391.62,167.28 398.32,165.93 403.98,162.97 409.98,163.20 416.32,166.60 420.30,168.80 421.90,169.80 424.72,171.90 428.78,175.10 433.62,180.95 439.28,189.45 444.93,196.52 450.57,202.18 456.22,206.05 461.88,208.15 465.77,208.97 467.93,208.53 470.98,206.98 474.92,204.32 478.85,199.43 482.75,192.27 486.67,185.12 490.63,177.98 494.55,172.10 498.45,167.50 503.00,164.55 508.20,163.25 514.60,164.52 522.20,168.38 528.50,171.85 533.50,174.95 538.50,177.38 543.50,179.12 548.50,179.18 553.50,177.52 558.50,176.02 563.50,174.68 568.50,176.32 573.50,180.98 578.50,184.55 583.50,187.05 588.50,191.23 593.50,197.07 598.50,202.93 603.50,208.77 609.33,213.10 615.97,215.90 622.65,217.55 629.35,218.05 635.20,217.48 640.20,215.82 645.20,212.50 650.20,207.50 655.20,201.68 660.20,195.02 665.60,190.45 671.40,187.95 677.22,188.35 683.08,191.65 688.50,194.85 693.50,197.95 699.33,199.05 705.97,198.15 713.05,197.85 720.55,198.15 727.22,199.98 733.08,203.32 739.33,206.68 745.97,210.02 752.65,214.20 759.35,219.20 766.03,223.35 772.67,226.65 779.33,228.73 785.97,229.57 791.80,229.32 796.80,227.98 801.80,225.05 806.80,220.55 811.80,215.80 816.80,210.80 822.22,207.23 828.08,205.07 833.08,204.50 837.22,205.50 840.55,207.18 843.05,209.52 847.22,211.77 853.08,213.93 858.50,214.18 863.50,212.52 868.92,209.45 874.78,204.95 880.20,202.20 885.20,201.20 889.78,200.95 893.92,201.45 898.50,203.77 903.50,207.93 908.92,212.07 914.78,216.23 920.60,218.98 926.40,220.32 931.80,220.32 936.80,218.98 941.40,215.80 945.60,210.80 949.35,203.73 952.65,194.57 956.40,185.82 960.60,177.48 964.28,172.10 967.42,169.70 970.75,168.88 974.25,169.62 977.75,170.70 981.25,172.10 985.42,173.10 990.28,173.70 995.20,175.50 1000.20,178.50 1006.03,180.82 1012.67,182.48 1018.50,182.05 1023.50,179.55 1028.92,177.48 1034.78,175.82 1040.20,176.68 1045.20,180.02 1049.78,184.20 1053.92,189.20 1058.50,195.02 1063.50,201.68 1068.50,206.68 1073.50,210.02 1078.92,212.10 1084.78,212.90 1090.20,212.05 1095.20,209.55 1099.78,204.55 1103.92,197.05 1108.08,189.15 1112.22,180.85 1116.40,174.02 1120.60,168.68 1126.03,166.57 1132.67,167.73 1138.92,168.55 1144.78,169.05 1150.60,170.73 1156.40,173.57 1161.47,175.38 1165.83,176.12 1170.00,176.75 1174.00,177.25 1177.67,176.62 1181.03,174.88 1184.53,173.68 1188.17,173.02 1193.17,174.10 1199.53,176.90 1205.20,181.23 1210.20,187.07 1216.03,193.75 1222.67,201.25 1228.50,206.25 1233.50,208.75 1239.28,210.40 1245.82,211.20 1250.62,210.07 1253.68,207.03 1256.73,202.07 1259.77,195.23 1262.82,188.38 1265.88,181.52 1268.93,175.42 1271.97,170.08 1275.03,166.25 1278.07,163.95 1281.88,162.28 1286.43,161.22 1290.70,160.72 1294.70,160.78 1297.35,161.35 1298.65,162.45 1301.97,164.28 1307.33,166.82 1310.00,168.10 1316.40,327.60 1374.80,327.60 1381.30,204.00 1383.30,205.38 1387.30,208.12 1392.22,209.70 1398.08,210.10 1403.08,209.05 1407.22,206.55 1411.40,201.48 1415.60,193.82 1419.78,185.82 1423.92,177.48 1428.08,170.85 1432.22,165.95 1436.40,163.30 1440.60,162.90 1444.78,163.27 1448.92,164.43 1453.92,165.25 1459.78,165.75 1465.20,166.88 1470.20,168.62 1476.03,170.50 1482.67,172.50 1489.33,173.00 1495.97,172.00 1501.80,172.80 1506.80,175.40 1511.80,179.20 1516.80,184.20 1520.97,188.47 1524.33,192.03 1528.60,196.73 1533.80,202.57 1539.00,207.12 1544.20,210.38 1549.42,212.35 1554.67,213.05 1559.90,211.43 1565.10,207.47 1570.30,199.97 1575.50,188.93 1580.70,180.15 1585.90,173.65 1591.12,168.75 1596.38,165.45 1600.75,163.90 1604.25,164.10 1608.58,165.05 1613.72,166.75 1618.90,169.45 1624.10,173.15 1630.03,176.57 1636.67,179.73 1642.60,181.08 1647.80,180.62 1653.03,180.85 1658.28,181.75 1663.08,183.50 1667.42,186.10 1671.55,189.35 1675.45,193.25 1679.13,197.37 1682.57,201.73 1684.97,204.80 1686.33,206.60 1687.00,207.50" fill="none" stroke="#000" stroke-width="5.56" stroke-linejoin="round"/>
</g>
<line x1="126.2" y1="327.9" x2="135.9" y2="327.9" stroke="#555555" stroke-width="2.2"/><text x="116.4" y="338.4" text-anchor="end" class="tk">0</text><line x1="126.2" y1="263.5" x2="135.9" y2="263.5" stroke="#555555" stroke-width="2.2"/><text x="116.4" y="275.0" text-anchor="end" class="tk">25</text><line x1="126.2" y1="199.1" x2="135.9" y2="199.1" stroke="#555555" stroke-width="2.2"/><text x="116.4" y="210.8" text-anchor="end" class="tk">50</text><line x1="126.2" y1="134.7" x2="135.9" y2="134.7" stroke="#555555" stroke-width="2.2"/><text x="116.4" y="146.6" text-anchor="end" class="tk">75</text><line x1="126.2" y1="70.3" x2="135.9" y2="70.3" stroke="#555555" stroke-width="2.2"/><text x="116.4" y="81.8" text-anchor="end" class="tk">100</text><line x1="135.9" y1="328.2" x2="135.9" y2="337.9" stroke="#555555" stroke-width="2.2"/><line x1="1686.0" y1="328.2" x2="1686.0" y2="337.9" stroke="#555555" stroke-width="2.2"/><line x1="291.9" y1="328.2" x2="291.9" y2="333.8" stroke="#555555" stroke-width="1.67"/><text x="291.9" y="365.6" text-anchor="middle" class="tk">14</text><line x1="447.6" y1="328.2" x2="447.6" y2="333.8" stroke="#555555" stroke-width="1.67"/><text x="447.6" y="365.6" text-anchor="middle" class="tk">15</text><line x1="603.2" y1="328.2" x2="603.2" y2="333.8" stroke="#555555" stroke-width="1.67"/><text x="603.2" y="365.6" text-anchor="middle" class="tk">16</text><line x1="758.8" y1="328.2" x2="758.8" y2="333.8" stroke="#555555" stroke-width="1.67"/><text x="758.8" y="365.6" text-anchor="middle" class="tk">17</text><line x1="914.5" y1="328.2" x2="914.5" y2="333.8" stroke="#555555" stroke-width="1.67"/><text x="914.5" y="365.6" text-anchor="middle" class="tk">18</text><line x1="1070.1" y1="328.2" x2="1070.1" y2="333.8" stroke="#555555" stroke-width="1.67"/><text x="1070.1" y="365.6" text-anchor="middle" class="tk">19</text><line x1="1225.7" y1="328.2" x2="1225.7" y2="333.8" stroke="#555555" stroke-width="1.67"/><text x="1225.7" y="365.6" text-anchor="middle" class="tk">20</text><line x1="1381.3" y1="328.2" x2="1381.3" y2="333.8" stroke="#555555" stroke-width="1.67"/><text x="1381.3" y="365.6" text-anchor="middle" class="tk">21</text><line x1="1537.0" y1="328.2" x2="1537.0" y2="333.8" stroke="#555555" stroke-width="1.67"/><text x="1537.0" y="365.6" text-anchor="middle" class="tk">22</text><text x="136.7" y="368.8" text-anchor="middle" class="tk">13</text><text x="136.7" y="402.1" text-anchor="middle" class="tk">Aug</text><text x="136.7" y="434.2" text-anchor="middle" class="tk">2025</text>
<g fill="#fff">
<rect x="135.2" y="18.9" width="2.8" height="311"/>
<rect x="1684.7" y="18.9" width="2.8" height="311"/>
<rect x="135.2" y="19.0" width="1552.3" height="2.8"/>
<rect x="135.2" y="326.8" width="1552.3" height="3.0"/>
</g>
<text transform="translate(45,173.3) rotate(-90)" text-anchor="middle" class="yl">power [GW]</text>
<rect x="145.9" y="29.3" width="322.7" height="236.1" rx="3.9" ry="3.9" fill="rgba(229,229,229,0.8)" stroke="rgba(204,204,204,0.8)" stroke-width="1.39"/><line x1="151.1" y1="45.3" x2="195.6" y2="45.3" stroke="#000" stroke-width="5.56"/><text x="208.3" y="52.5" class="lg">today's demand</text><rect x="153.9" y="67.1" width="38.9" height="13.9" fill="#daf7a6"/><text x="208.3" y="81.2" class="lg">pumped hydro discharger</text><rect x="153.9" y="95.8" width="38.9" height="13.9" fill="#ff0000"/><text x="208.3" y="109.9" class="lg">hydrogen turbine</text><rect x="153.9" y="124.6" width="38.9" height="13.9" fill="#999999"/><text x="208.3" y="138.7" class="lg">battery discharger</text><rect x="153.9" y="153.3" width="38.9" height="13.9" fill="#ffff00"/><text x="208.3" y="167.4" class="lg">solar PV</text><rect x="153.9" y="182.0" width="38.9" height="13.9" fill="#3b5f80"/><text x="208.3" y="196.1" class="lg">onshore wind</text><rect x="153.9" y="210.7" width="38.9" height="13.9" fill="#5b80a3"/><text x="208.3" y="224.8" class="lg">offshore wind</text><rect x="153.9" y="239.4" width="38.9" height="13.9" fill="#008000"/><text x="208.3" y="253.5" class="lg">hydroelectricity</text>
</svg>
</body></html>
